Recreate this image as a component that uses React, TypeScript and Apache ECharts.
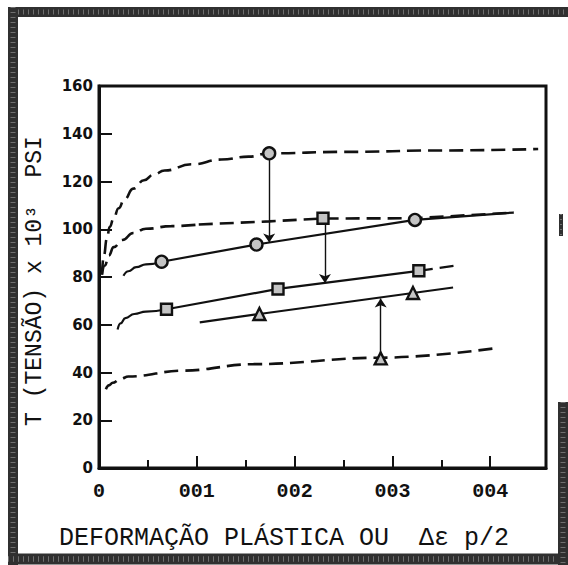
import React, { useEffect, useRef } from 'react';
import * as echarts from 'echarts';

// ---- data (x = plastic strain Δεp/2, y = stress, 10^3 psi) ----
const dashedUpper: [number, number][] = [
  [0.0003, 81], [0.0005, 89], [0.0008, 96], [0.0011, 101], [0.0015, 104.6],
  [0.002, 108.8], [0.0026, 112.5], [0.0035, 117], [0.0046, 120.5], [0.0056, 122.9],
  [0.0067, 124.6], [0.0095, 127.2], [0.0125, 129.2], [0.0153, 130.4], [0.0174, 131.8],
  [0.025, 132.4], [0.035, 133], [0.0449, 133.6],
];
const dashedMiddleKnee: [number, number][] = [
  [0.0003, 81], [0.0006, 84.8], [0.001, 89], [0.0015, 92.5], [0.0024, 95.5],
  [0.0035, 98.4], [0.0048, 100.2], [0.0074, 101.3], [0.0102, 102],
];
const dashedMiddleStraight: [number, number][] = [
  [0.0102, 102], [0.0174, 103.3], [0.0229, 104.5], [0.0323, 104.6], [0.0424, 107],
];
const circlesKnee: [number, number][] = [
  [0.0025, 80.5], [0.003, 82.4], [0.0038, 84.1], [0.0048, 85.3], [0.0064, 86.4],
];
const circlesStraight: [number, number][] = [
  [0.0064, 86.4], [0.0161, 93.6], [0.0323, 103.9], [0.0424, 107],
];
const squaresKnee: [number, number][] = [
  [0.0019, 58], [0.0022, 60.6], [0.0027, 62.8], [0.0036, 64.5], [0.0048, 65.5], [0.0069, 66.5],
];
const squaresStraight: [number, number][] = [
  [0.0069, 66.5], [0.0183, 75], [0.0327, 82.6],
];
const squaresExtension: [number, number][] = [[0.0327, 82.6], [0.0368, 85]];
const trianglesLine: [number, number][] = [
  [0.0103, 61], [0.0164, 64.5], [0.0321, 73.3], [0.0362, 75.6],
];
const dashedLower: [number, number][] = [
  [0.0007, 33], [0.001, 34.6], [0.0014, 35.7], [0.0022, 37.3], [0.003, 38.3],
  [0.0086, 40.8], [0.0158, 43.5], [0.0288, 46.2], [0.0406, 50.2],
];

const circlePoints: [number, number][] = [[0.0174, 131.8], [0.0064, 86.4], [0.0161, 93.6], [0.0323, 103.9]];
const squarePoints: [number, number][] = [[0.0229, 104.6], [0.0069, 66.5], [0.0183, 75], [0.0327, 82.6]];
const trianglePoints: [number, number][] = [[0.0288, 45.9], [0.0164, 64.5], [0.0321, 73.3]];

// arrows: [x, from y, to y]
const arrows: [number, number, number][] = [
  [0.0174, 131.8, 94.4],
  [0.0231, 104.6, 77.5],
  [0.0288, 45.9, 71],
];

const xMajorValues = [0, 0.01, 0.02, 0.03, 0.04];
const xMajorLabels = ['0', '001', '002', '003', '004'];
const xMinorValues = [0.005, 0.015, 0.025, 0.035];

const yTitle = 'T (TENSÃO) x 10³  PSI';
const xTitle = 'DEFORMAÇÃO PLÁSTICA OU  Δε p/2';

export default function App() {
  const ref = useRef<HTMLDivElement>(null);

  useEffect(() => {
    const chart = echarts.init(ref.current!, null, { renderer: 'svg' });
    const black = '#111';
    const dash = [14, 7];

    const line = (name: string, data: [number, number][], type: any, width: number, smooth: number) => ({
      type: 'line',
      name,
      data,
      symbol: 'none',
      smooth,
      smoothMonotone: 'x',
      silent: true,
      z: 2,
      lineStyle: { color: black, width, type },
    });

    const scatter = (name: string, data: [number, number][], symbol: string, size: number) => ({
      type: 'scatter',
      name,
      data,
      symbol,
      symbolSize: size,
      silent: true,
      z: 5,
      itemStyle: { color: '#c4c4c4', borderColor: black, borderWidth: 2.4, opacity: 1 },
    });

    const band = (x1: number, y1: number, x2: number, y2: number, w: number) => [
      {
        type: 'line', silent: true,
        shape: { x1, y1, x2, y2 },
        style: { stroke: '#303030', lineWidth: w },
      },
      {
        type: 'line', silent: true,
        shape: { x1, y1, x2, y2 },
        style: { stroke: '#9a9a9a', lineWidth: w * 0.5, lineDash: [1, 4], opacity: 0.6 },
      },
    ];

    chart.setOption({
      animation: false,
      backgroundColor: '#fff',
      grid: {
        left: 99, top: 86, width: 447, height: 382,
        show: true, borderColor: black, borderWidth: 3, backgroundColor: 'transparent',
        outerBoundsMode: 'none',
      },
      xAxis: [
        {
          type: 'value', min: 0, max: 0.0457, interval: 0.01,
          axisLine: { show: true, lineStyle: { color: black, width: 3 } },
          axisTick: { show: true, inside: true, length: 12, customValues: xMajorValues, lineStyle: { color: black, width: 2 } },
          axisLabel: {
            customValues: xMajorValues,
            margin: 13,
            color: black,
            fontFamily: 'Liberation Mono',
            fontSize: 20,
            fontWeight: 'bold',
            formatter: (v: number) => {
              const i = xMajorValues.findIndex((m) => Math.abs(m - v) < 1e-7);
              return i >= 0 ? xMajorLabels[i] : '';
            },
          },
          splitLine: { show: false },
        },
        {
          type: 'value', min: 0, max: 0.0457, interval: 0.005,
          position: 'top', offset: -382,
          axisLine: { show: false },
          axisTick: { show: true, inside: false, length: 8, customValues: xMinorValues, lineStyle: { color: black, width: 2 } },
          axisLabel: { show: false },
          splitLine: { show: false },
        },
      ],
      yAxis: {
        type: 'value', min: 0, max: 160, interval: 20,
        axisLine: { show: true, lineStyle: { color: black, width: 3 } },
        axisTick: { show: true, inside: true, length: 13, lineStyle: { color: black, width: 2 } },
        axisLabel: { margin: 6, color: black, fontFamily: 'DejaVu Sans', fontWeight: 'bold', fontSize: 15 },
        splitLine: { show: false },
      },
      series: [
        line('upper dashed', dashedUpper, dash, 2.6, 0.5),
        line('middle dashed knee', dashedMiddleKnee, dash, 2.6, 0.5),
        line('middle dashed', dashedMiddleStraight, dash, 2.6, 0),
        line('circles knee', circlesKnee, 'solid', 2.2, 0.5),
        line('circles', circlesStraight, 'solid', 2.2, 0),
        line('squares knee', squaresKnee, 'solid', 2.2, 0.5),
        line('squares', squaresStraight, 'solid', 2.2, 0),
        line('squares extension', squaresExtension, dash, 2.2, 0),
        line('triangles', trianglesLine, 'solid', 2.2, 0),
        line('lower dashed', dashedLower, dash, 2.6, 0.4),
        {
          type: 'lines',
          coordinateSystem: 'cartesian2d',
          silent: true,
          z: 3,
          symbol: ['none', 'arrow'],
          symbolSize: 9,
          lineStyle: { color: black, width: 1.4, opacity: 1, curveness: 0 },
          data: arrows.map(([x, y0, y1]) => ({ coords: [[x, y0], [x, y1]] })),
        },
        scatter('circle points', circlePoints, 'circle', 12),
        scatter('square points', squarePoints, 'rect', 11),
        scatter('triangle points', trianglePoints, 'triangle', 12),
      ],
      graphic: [
        ...band(8, 12, 568, 12, 10),
        ...band(13, 7, 13, 565, 10),
        ...band(8, 559, 568, 559, 11),
        ...band(563, 402, 563, 565, 10),
        ...band(561, 214, 561, 236, 4),
        {
          type: 'text',
          x: 35, y: 281,
          rotation: Math.PI / 2,
          silent: true,
          style: {
            text: yTitle, fill: black, fontFamily: 'Liberation Mono', fontSize: 23,
            align: 'center', verticalAlign: 'middle', textAlign: 'center', textVerticalAlign: 'middle',
          },
        },
        {
          type: 'text',
          x: 284, y: 538,
          silent: true,
          style: {
            text: xTitle, fill: black, fontFamily: 'Liberation Mono', fontSize: 25,
            align: 'center', verticalAlign: 'middle', textAlign: 'center', textVerticalAlign: 'middle',
          },
        },
      ],
    });

    return () => chart.dispose();
  }, []);

  return (
    <div
      ref={ref}
      style={{ position: 'fixed', left: 0, top: 0, width: 568, height: 565, background: '#fff' }}
    />
  );
}
